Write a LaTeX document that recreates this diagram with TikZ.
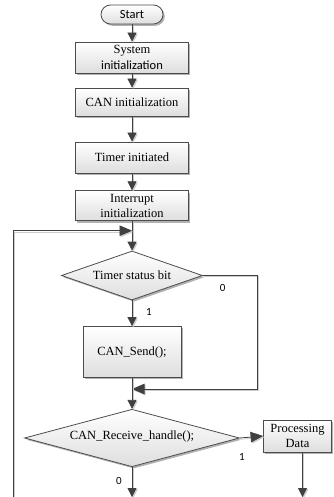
\documentclass[tikz,border=0pt]{standalone}
\usepackage{fontspec}
\setmainfont{Liberation Serif}
\newfontfamily\calfont{Carlito}
\usetikzlibrary{arrows.meta,shapes.geometric,shadows}
\begin{document}
\begin{tikzpicture}[x=1pt,y=-1pt,
  font=\fontsize{12.5}{15}\selectfont,
  shade/.style={top color=white, bottom color=black!13,
    drop shadow={shadow xshift=1.8pt,shadow yshift=-1.8pt,fill=black!30,opacity=1}},
  box/.style={shade, draw=black!70, line width=0.8pt, inner sep=0pt, align=center},
  term/.style={box, minimum width=62pt, minimum height=19pt, rounded corners=9.5pt},
  dia/.style={shade, diamond, draw=black!70, line width=0.8pt, inner sep=0pt},
  conn/.style={draw=black!75, line width=0.8pt,
    preaction={draw=black!20, line width=0.8pt, transform canvas={shift={(1.2pt,-1.2pt)}}}},
  arr/.style={conn, -{Triangle[length=9pt,width=9pt]}},
  bigarr/.style={conn, -{Triangle[length=12.5pt,width=10.5pt]}},
  lab/.style={font=\calfont\fontsize{11}{13}\selectfont, inner sep=0pt}
]
\useasboundingbox (0,0) rectangle (333,497);

\node[term] (start) at (132,14.5) {\calfont Start};
\node[box, minimum width=113pt, minimum height=31pt] (sys) at (132,57.5) {System\\[1pt]{\calfont initialization}};
\node[box, minimum width=113pt, minimum height=28pt] (can) at (132,102) {CAN initialization};
\node[box, minimum width=113pt, minimum height=31pt] (tim) at (132,157.5) {Timer initiated};
\node[box, minimum width=113pt, minimum height=30pt] (int) at (132,205.7) {Interrupt\\initialization};
\node[dia, minimum width=141pt, minimum height=49pt] (d1) at (132,275.5) {};
\node[inner sep=0pt] (d1t) at (132,275.5) {Timer status bit};
\node[box, minimum width=98pt, minimum height=51pt] (send) at (132,352) {CAN\_Send();};
\node[dia, minimum width=215pt, minimum height=57.5pt] (d2) at (132,438) {};
\node[inner sep=0pt] (d2t) at (132,436) {CAN\_Receive\_handle();};
\node[box, minimum width=68pt, minimum height=32pt] (proc) at (297.5,436) {Processing\\Data};

\coordinate (loopin) at (132,230.7);
\coordinate (loopb) at (13,497);
\coordinate (d1r) at (257,275.5);
\coordinate (merge) at (132,389);
\coordinate (out0) at (132,497);
\coordinate (out1) at (302.5,497);

\draw[arr] (start) -- (sys);
\draw[arr] (sys) -- (can);
\draw[arr] (can) -- (tim);
\draw[arr] (tim) -- (int);
\draw[arr] (int) -- (d1);
\draw[bigarr] (loopb) |- (loopin);
\draw[bigarr] (d1.east) -- (d1r) |- (merge);
\draw[arr] (d1) -- (send);
\draw[arr] (send) -- (d2);
\draw[bigarr] (d2.east) -- (proc.west);
\draw[arr] (d2.south) -- (out0);
\draw[arr] (proc.south -| out1) -- (out1);

\node[lab] (l0a) at (222.7,287.7) {0};
\node[lab] (l1a) at (149,312) {1};
\node[lab] (l1b) at (242,457) {1};
\node[lab] (l0b) at (119,481) {0};
\end{tikzpicture}
\end{document}
